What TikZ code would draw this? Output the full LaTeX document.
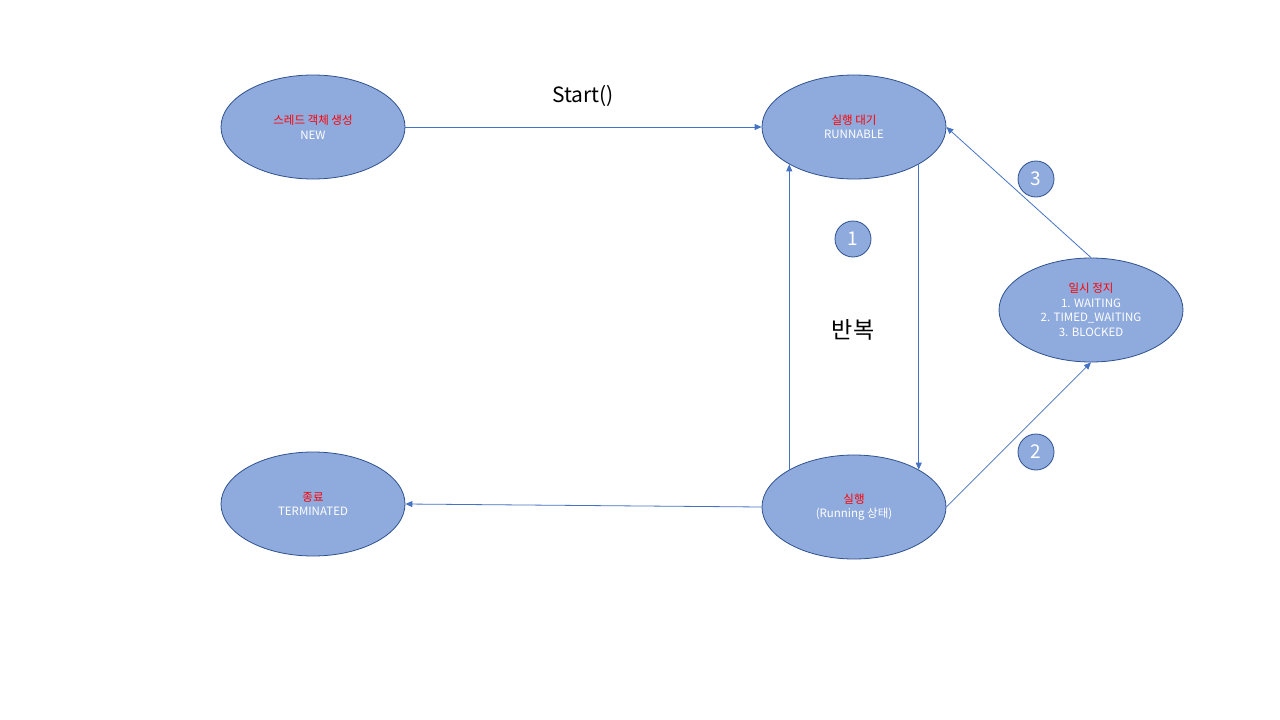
\documentclass[tikz,border=0pt]{standalone}
\usepackage{fontspec}
\setmainfont{Noto Sans CJK KR}
\usetikzlibrary{arrows.meta, shapes.geometric}
\definecolor{statefill}{HTML}{8FAADC}
\definecolor{stateline}{HTML}{2F528F}
\definecolor{arrowline}{HTML}{4472C4}
\definecolor{labelred}{HTML}{FF0000}
\tikzset{
  state/.style={ellipse, draw=stateline, fill=statefill, line width=0.8pt,
    minimum width=184pt, minimum height=104pt, inner sep=0pt, align=center,
    text=white, font=\fontsize{11.5}{14.5}\selectfont},
  numbadge/.style={circle, draw=stateline, fill=statefill, line width=0.8pt,
    minimum size=36pt, inner sep=0pt, text=white, font=\fontsize{19}{19}\selectfont},
  flow/.style={->, draw=arrowline, line width=0.8pt}
}
\newcommand{\redline}[1]{\textcolor{labelred}{#1}}
\begin{document}
\begin{tikzpicture}[x=1pt, y=-1pt, >={Triangle[length=7pt, width=6pt]}]
  \useasboundingbox[fill=white] (0,0) rectangle (1280,720);
  % states
  \node[state] (new) at (313,127) {\redline{스레드 객체 생성}\\NEW};
  \node[state] (runnable) at (854,127) {\redline{실행 대기}\\RUNNABLE};
  \node[state] (pause) at (1091,310) {\redline{일시 정지}\\1. WAITING\\2. TIMED\_WAITING\\3. BLOCKED};
  \node[state] (running) at (854,507) {\redline{실행}\\(Running 상태)};
  \node[state] (term) at (313,504) {\redline{종료}\\TERMINATED};
  % transitions
  \draw[flow] (new.east) -- (runnable.west);
  \draw[flow] (running.150) -- (runnable.210);
  \draw[flow] (runnable.330) -- (running.30);
  \draw[flow] (running.east) -- (pause.south);
  \draw[flow] (pause.north) -- (runnable.east);
  \draw[flow] (running.west) -- (term.east);
  % labels
  \node[font=\fontsize{21}{21}\selectfont] (startlbl) at (583,96) {Start()};
  \node[font=\fontsize{23}{23}\selectfont] (looplbl) at (853,330) {반복};
  \node[numbadge] (badge1) at (853,239) {1};
  \node[numbadge] (badge2) at (1036,452) {2};
  \node[numbadge] (badge3) at (1036,179) {3};
\end{tikzpicture}
\end{document}
